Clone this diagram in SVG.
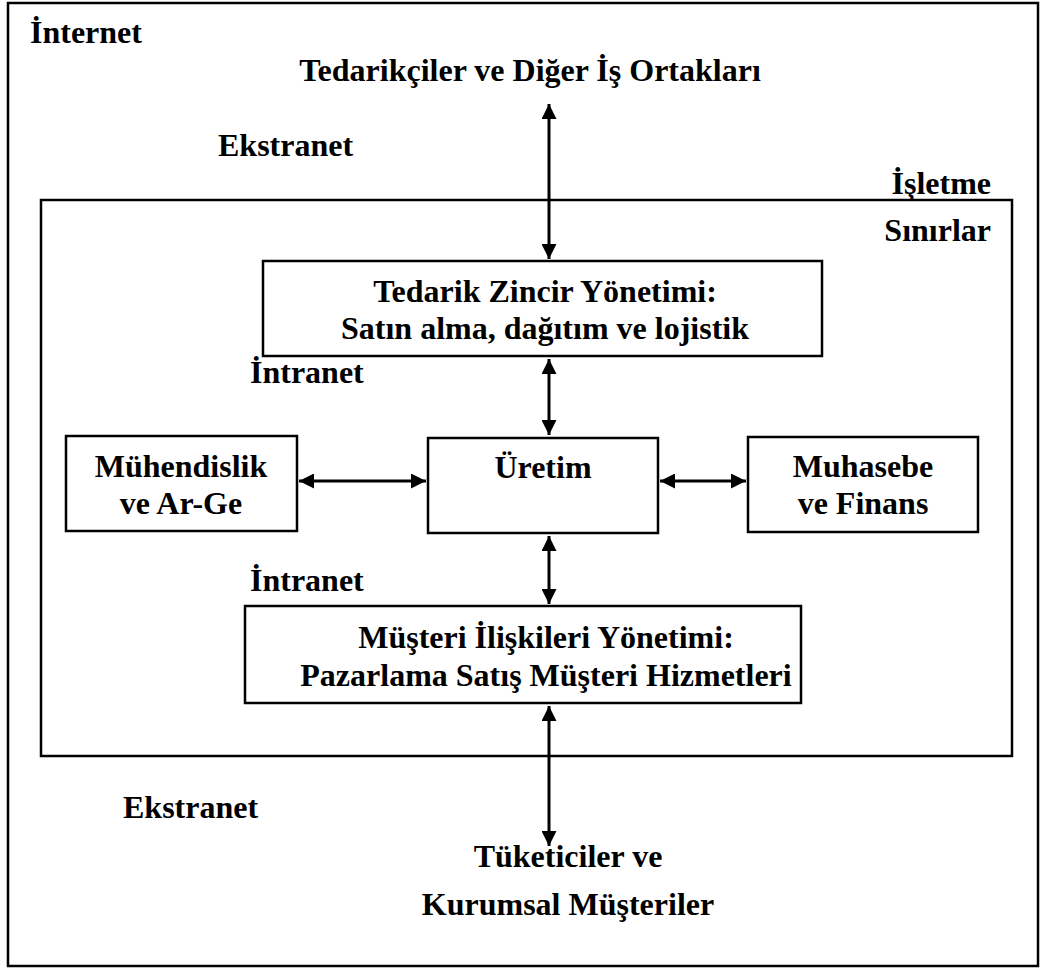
<svg xmlns="http://www.w3.org/2000/svg" width="1041" height="970" viewBox="0 0 1041 970">
  <style>
    .frame { fill: none; stroke: #000; stroke-width: 2.5; }
    .box { fill: #fff; stroke: #000; stroke-width: 2.5; }
    .lbl { font-family: "Liberation Serif", "Times New Roman", serif; font-weight: bold; font-size: 32px; fill: #000; }
    .mid { text-anchor: middle; }
    .end { text-anchor: end; }
    .link { stroke: #000; stroke-width: 3; fill: none; marker-start: url(#head); marker-end: url(#head); }
  </style>
  <defs>
    <marker id="head" viewBox="0 0 10 10" refX="10" refY="5" markerWidth="5.5" markerHeight="5" orient="auto-start-reverse" markerUnits="strokeWidth">
      <path d="M0,0 L10,5 L0,10 Z" fill="#000"/>
    </marker>
  </defs>
  <rect width="1041" height="970" fill="#fff"/>

  <!-- outer boundary: the internet -->
  <g id="internet">
    <rect class="frame" x="8" y="3" width="1030" height="963"/>
    <text class="lbl" x="30" y="43">İnternet</text>
  </g>

  <g id="partners">
    <text class="lbl mid" x="530" y="81">Tedarikçiler ve Diğer İş Ortakları</text>
  </g>

  <g id="extranet-top">
    <text class="lbl" x="218" y="156">Ekstranet</text>
  </g>

  <!-- inner boundary: the enterprise -->
  <g id="enterprise">
    <rect class="frame" x="41" y="200" width="971" height="556"/>
    <text class="lbl end" x="991" y="194">İşletme</text>
    <text class="lbl end" x="991" y="241">Sınırlar</text>
  </g>

  <g id="scm">
    <rect class="box" x="263" y="261" width="559" height="95"/>
    <text class="lbl mid" x="545" y="302">Tedarik Zincir Yönetimi:</text>
    <text class="lbl mid" x="545" y="339">Satın alma, dağıtım ve lojistik</text>
  </g>

  <g id="intranet-top">
    <text class="lbl" x="250" y="383">İntranet</text>
  </g>

  <g id="engineering">
    <rect class="box" x="66" y="436" width="231" height="95"/>
    <text class="lbl mid" x="181" y="477">Mühendislik</text>
    <text class="lbl mid" x="181" y="514">ve Ar-Ge</text>
  </g>

  <g id="production">
    <rect class="box" x="428" y="438" width="230" height="95"/>
    <text class="lbl mid" x="543" y="478">Üretim</text>
  </g>

  <g id="finance">
    <rect class="box" x="748" y="437" width="230" height="95"/>
    <text class="lbl mid" x="863" y="477">Muhasebe</text>
    <text class="lbl mid" x="863" y="514">ve Finans</text>
  </g>

  <g id="intranet-bottom">
    <text class="lbl" x="250" y="591">İntranet</text>
  </g>

  <g id="crm">
    <rect class="box" x="245" y="606" width="556" height="97"/>
    <text class="lbl mid" x="546" y="648">Müşteri İlişkileri Yönetimi:</text>
    <text class="lbl mid" x="546" y="686">Pazarlama Satış Müşteri Hizmetleri</text>
  </g>

  <g id="extranet-bottom">
    <text class="lbl" x="123" y="818">Ekstranet</text>
  </g>

  <g id="customers">
    <text class="lbl mid" x="568" y="867">Tüketiciler ve</text>
    <text class="lbl mid" x="568" y="915">Kurumsal Müşteriler</text>
  </g>

  <!-- two-way links -->
  <g id="connectors">
    <line class="link" x1="549" y1="104" x2="549" y2="259"/>
    <line class="link" x1="549" y1="359" x2="549" y2="435"/>
    <line class="link" x1="299" y1="481" x2="426" y2="481"/>
    <line class="link" x1="660" y1="481" x2="746" y2="481"/>
    <line class="link" x1="549" y1="536" x2="549" y2="604"/>
    <line class="link" x1="549" y1="706" x2="549" y2="846"/>
  </g>
</svg>
